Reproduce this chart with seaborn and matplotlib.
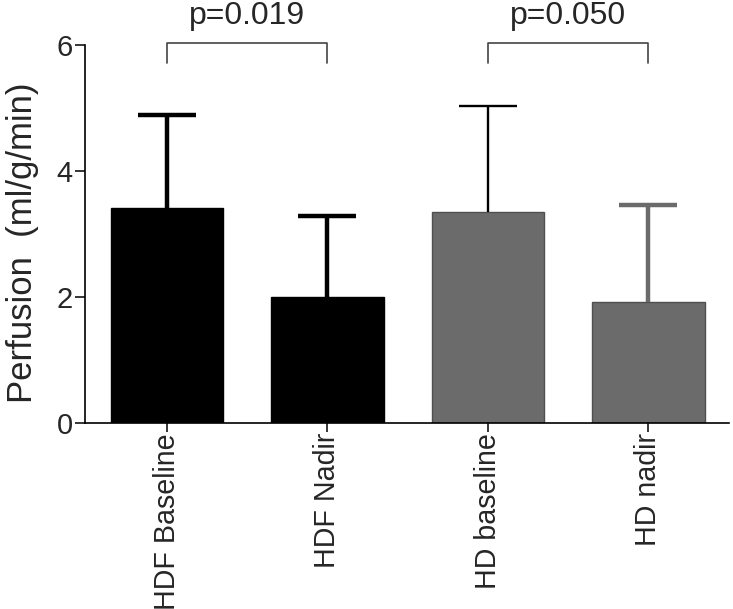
import numpy as np
import seaborn as sns
import matplotlib
matplotlib.use('Agg')
from matplotlib import pyplot as plt

# values
groups = ['HDF Baseline', 'HDF Nadir', 'HD baseline', 'HD nadir']
means = [3.41, 2.00, 3.35, 1.92]
sd = [1.48, 1.29, 1.68, 1.54]
bar_colors = ['#000000', '#000000', '#6b6b6b', '#6b6b6b']
edge_colors = ['#000000', '#000000', '#4f4f4f', '#4f4f4f']
err_colors = ['#000000', '#000000', '#000000', '#6b6b6b']
err_widths = [3.2, 3.2, 1.7, 3.2]
pvals = ['p=0.019', 'p=0.050']
pairs = [(0, 1), (2, 3)]

sns.set_style('ticks')
plt.rcParams['font.family'] = ['Liberation Sans', 'DejaVu Sans']

fig = plt.figure(figsize=(7.33, 6.09), dpi=100)
ax = fig.add_axes([0.116, 0.305, 0.878, 0.621])

sns.barplot(x=groups, y=means, hue=groups, palette=bar_colors, legend=False,
            width=0.70, ax=ax, linewidth=1.0)
for patch, ec in zip(ax.patches, edge_colors):
    patch.set_edgecolor(ec)

# upper error bars only (line + top cap)
xs = np.arange(len(groups))
tops = np.array(means) + np.array(sd)
for i in xs:
    ax.vlines(i, means[i], tops[i], color=err_colors[i], lw=err_widths[i], zorder=3)
    ax.hlines(tops[i], i - 0.18, i + 0.18, color=err_colors[i], lw=err_widths[i], zorder=3)

ax.set_xlim(-0.51, 3.5)
ax.set_ylim(0, 6)
ax.set_yticks([0, 2, 4, 6])
ax.tick_params(axis='y', labelsize=21, length=7, width=1.1, color='black', pad=2)
ax.tick_params(axis='x', labelsize=20.6, length=6.5, width=1.1, color='black',
               pad=0.5, labelrotation=90)
ax.set_ylabel('Perfusion  (ml/g/min)', fontsize=25)
ax.yaxis.set_label_coords(-0.072, 0.476)
for s in ['top', 'right']:
    ax.spines[s].set_visible(False)
for s in ['left', 'bottom']:
    ax.spines[s].set_linewidth(1.2)
    ax.spines[s].set_color('black')

# significance brackets
for (a, b), p in zip(pairs, pvals):
    y0, y1 = 5.72, 6.03
    ax.plot([a, a, b, b], [y0, y1, y1, y0], color='#444444', lw=1.2,
            clip_on=False)
    ax.text((a + b) / 2, 6.33, p, ha='center', va='baseline', fontsize=23,
            clip_on=False)

fig.savefig('out.png', dpi=100)
